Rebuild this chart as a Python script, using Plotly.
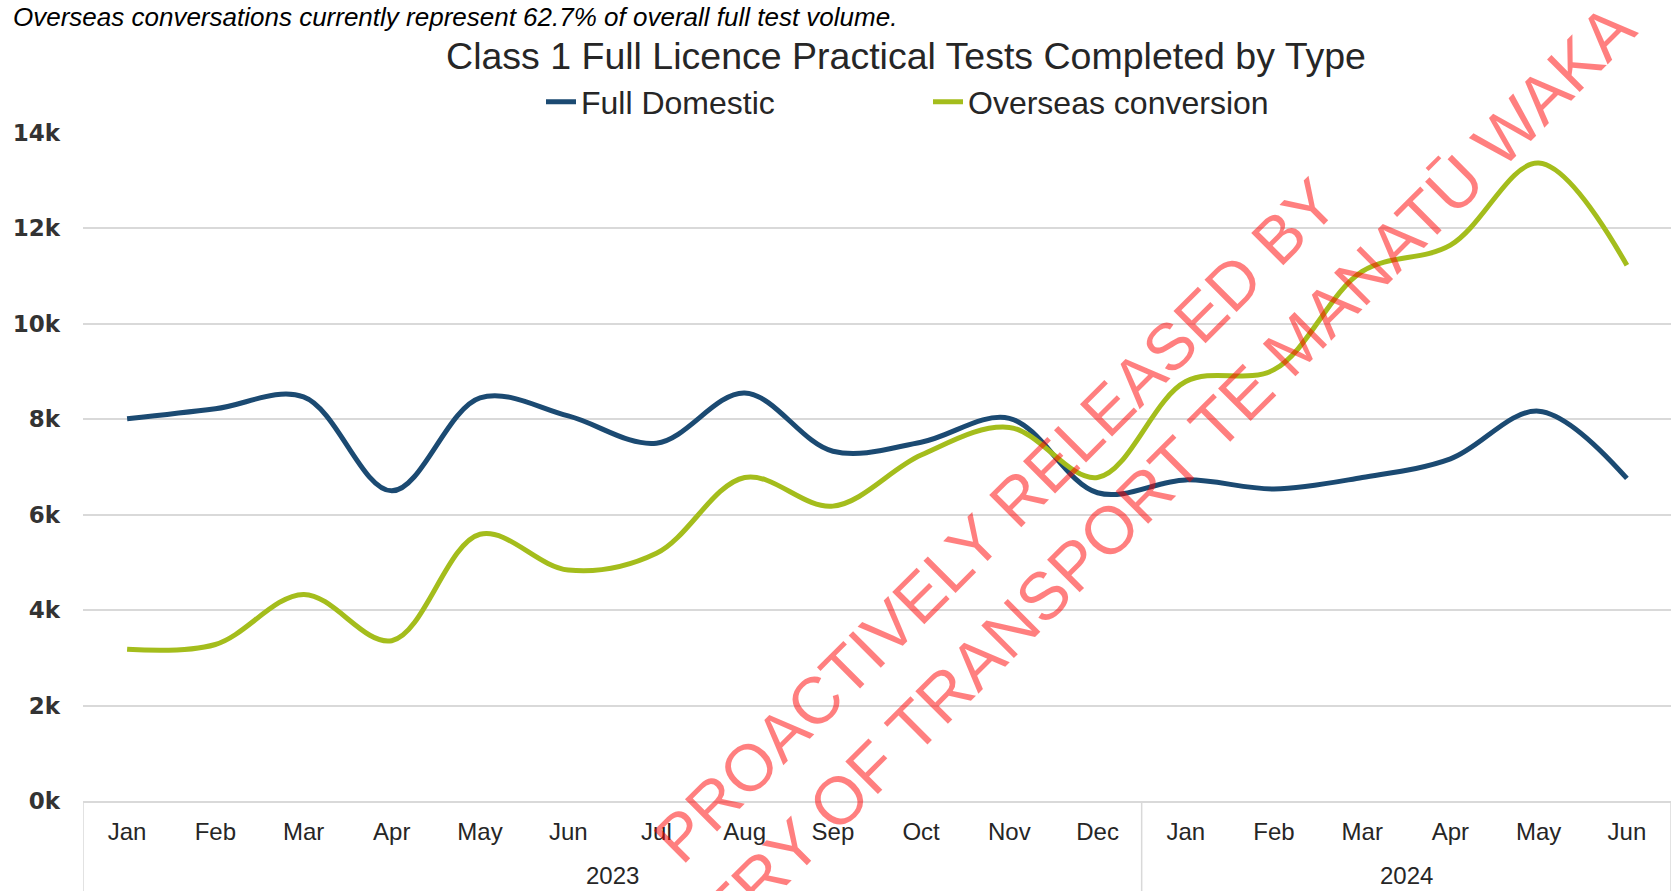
import plotly.graph_objects as go

# data
years = ['2023'] * 12 + ['2024'] * 6
months = ['Jan', 'Feb', 'Mar', 'Apr', 'May', 'Jun', 'Jul', 'Aug', 'Sep', 'Oct', 'Nov', 'Dec',
          'Jan', 'Feb', 'Mar', 'Apr', 'May', 'Jun']
full_domestic = [8010, 8220, 8470, 6500, 8450, 8070, 7500, 8550, 7330, 7520, 8020, 6460,
                 6730, 6540, 6780, 7170, 8170, 6760]
overseas_conversion = [3180, 3280, 4330, 3360, 5590, 4840, 5190, 6780, 6180, 7250, 7830, 6780,
                       8790, 9040, 11100, 11650, 13370, 11230]
ytick_vals = [0, 2000, 4000, 6000, 8000, 10000, 12000, 14000]
ytick_text = ['0k', '2k', '4k', '6k', '8k', '10k', '12k', '14k']

W, H = 1671, 891
L, T, B = 83, 133, 90
plot_w, plot_h = W - L, H - T - B

xs = list(range(len(months)))

fig = go.Figure()
fig.add_trace(go.Scatter(x=xs, y=full_domestic, name='Full Domestic', mode='lines',
                         line=dict(color='#1b4a72', width=5, shape='spline', smoothing=1.0)))
fig.add_trace(go.Scatter(x=xs, y=overseas_conversion, name='Overseas conversion', mode='lines',
                         line=dict(color='#a4bd1c', width=5, shape='spline', smoothing=1.0)))

fig.update_layout(
    width=W, height=H,
    margin=dict(l=L, r=0, t=T, b=B, autoexpand=False),
    plot_bgcolor='white', paper_bgcolor='white',
    font=dict(family='Liberation Sans, Arial, sans-serif', color='#262626'),
    title=dict(text='Class 1 Full Licence Practical Tests Completed by Type',
               font=dict(size=37.5, color='#262626'),
               x=906 / W, xref='container', xanchor='center',
               y=1 - 56 / H, yref='container', yanchor='middle'),
    legend=dict(orientation='h', x=541 / W, xref='container', xanchor='left',
                y=1 - 102 / H, yref='container', yanchor='middle',
                font=dict(size=32, color='#262626'),
                entrywidth=342, entrywidthmode='pixels', bgcolor='rgba(0,0,0,0)'),
    showlegend=True,
)

fig.update_xaxes(range=[-0.5, len(months) - 0.5], tickvals=xs, ticktext=months,
                 showgrid=False, zeroline=False, showline=True, linecolor='#d9d9d9', linewidth=1.5,
                 tickfont=dict(size=24, color='#262626'), ticks='', ticklabelstandoff=8)

fig.update_yaxes(range=[0, 14000], tickvals=ytick_vals, ticktext=ytick_text,
                 showgrid=True, gridcolor='#d9d9d9', gridwidth=1.5, zeroline=False,
                 tickfont=dict(family='DejaVu Sans, Verdana, sans-serif', size=23, color='#333333', weight=600),
                 ticklabelstandoff=22)

# year labels and group dividers under the month labels
bounds = [-0.5]
for i in range(1, len(years)):
    if years[i] != years[i - 1]:
        bounds.append(i - 0.5)
bounds.append(len(years) - 0.5)
for b in bounds:
    fig.add_shape(type='line', xref='x', yref='paper', x0=b, x1=b, y0=0, y1=-B / plot_h,
                  line=dict(color='#d9d9d9', width=1.5))
for y in sorted(set(years)):
    idx = [i for i, v in enumerate(years) if v == y]
    fig.add_annotation(text=y, xref='x', yref='paper', x=(idx[0] + idx[-1]) / 2, y=(801 - 875) / plot_h,
                       yanchor='middle', showarrow=False, font=dict(size=24, color='#262626'))

# note at the top of the page
fig.add_annotation(text='<i>Overseas conversations currently represent 62.7% of overall full test volume.</i>',
                   xref='paper', yref='paper', x=(11 - L) / plot_w, y=(801 - 0) / plot_h,
                   xanchor='left', yanchor='top', showarrow=False,
                   font=dict(size=26, color='#000000'))

# watermark
wm = dict(xref='paper', yref='paper', showarrow=False, textangle=-45)
fig.add_annotation(text='PROACTIVELY RELEASED BY', x=(996 - L) / plot_w, y=(801 - 520) / plot_h,
                   font=dict(family='Liberation Sans, Arial, sans-serif', size=66, color='rgba(255,0,0,0.5)'), **wm)
fig.add_annotation(text='MINISTRY OF TRANSPORT TE MANATŪ WAKA', x=(1102 - L) / plot_w, y=(801 - 536) / plot_h,
                   font=dict(family='Liberation Sans, Arial, sans-serif', size=67, color='rgba(255,0,0,0.5)'), **wm)

fig.write_html('out.html', config={'displayModeBar': False},
               post_script="document.body.style.margin='0';")
